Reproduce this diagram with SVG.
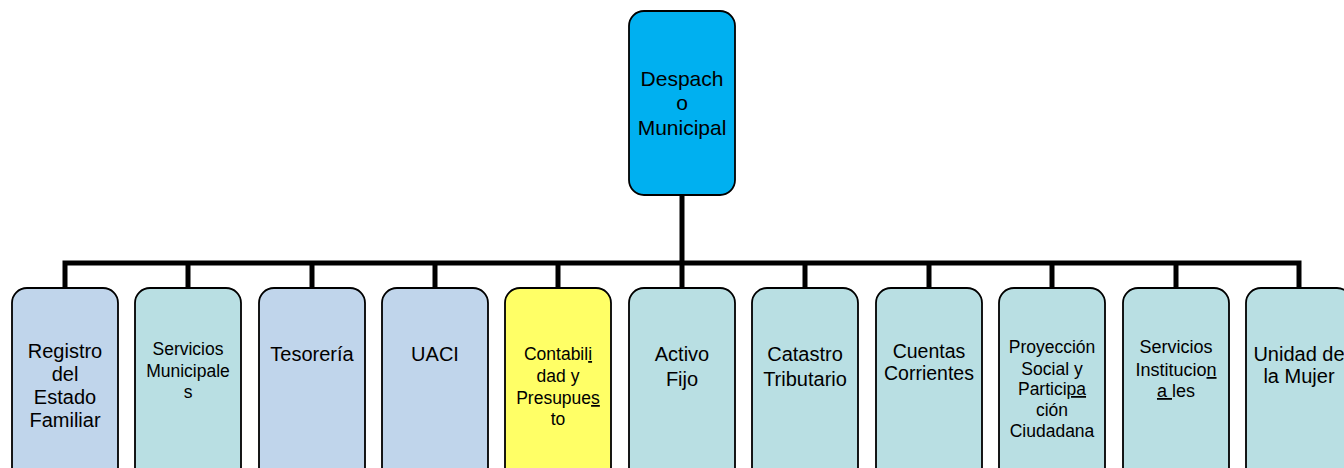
<svg xmlns="http://www.w3.org/2000/svg" width="1344" height="468" viewBox="0 0 1344 468">
<style>
.box{stroke:#000;stroke-width:1.8}
.top{fill:#00B0F0}
.lb{fill:#C0D5EB}
.tl{fill:#B9DFE3}
.yl{fill:#FFFF66}
text{font-family:"Liberation Sans",Arial,sans-serif;fill:#000;text-anchor:middle}
.big{font-size:20px}
.sm{font-size:17.5px}
.u{text-decoration:underline}
.conn{stroke:#000;stroke-width:5;fill:none;stroke-linejoin:miter}
</style>
<rect width="1344" height="468" fill="#fff"/>
<g id="connectors">
<path class="conn" d="M682,195 V263"/>
<path class="conn" d="M65,289 V263 H1299 V289"/>
<path class="conn" d="M188,263 V289 M312,263 V289 M435,263 V289 M558,263 V289 M682,263 V289 M805,263 V289 M929,263 V289 M1052,263 V289 M1176,263 V289"/>
</g>
<g id="n-despacho">
<rect class="box top" x="629" y="11" width="106" height="184" rx="15"/>
<text style="font-size:21px"><tspan x="682" y="86">Despach</tspan><tspan x="682" y="110">o</tspan><tspan x="682" y="135">Municipal</tspan></text>
</g>
<g id="n-registro">
<rect class="box lb" x="12" y="288" width="106" height="200" rx="15"/>
<text class="big"><tspan x="65" y="358">Registro</tspan><tspan x="65" y="381">del</tspan><tspan x="65" y="404">Estado</tspan><tspan x="65" y="427">Familiar</tspan></text>
</g>
<g id="n-servicios-municipales">
<rect class="box tl" x="135" y="288" width="106" height="200" rx="15"/>
<text class="sm"><tspan x="188" y="355">Servicios</tspan><tspan x="188" y="377">Municipale</tspan><tspan x="188" y="398">s</tspan></text>
</g>
<g id="n-tesoreria">
<rect class="box lb" x="259" y="288" width="106" height="200" rx="15"/>
<text class="big" x="312" y="361">Tesorería</text>
</g>
<g id="n-uaci">
<rect class="box lb" x="382" y="288" width="106" height="200" rx="15"/>
<text class="big" x="435" y="361">UACI</text>
</g>
<g id="n-contabilidad">
<rect class="box yl" x="505" y="288" width="106" height="200" rx="15"/>
<text class="sm"><tspan x="558" y="360">Contabil<tspan class="u">i</tspan></tspan><tspan x="558" y="382">dad y</tspan><tspan x="558" y="404">Presupue<tspan class="u">s</tspan></tspan><tspan x="558" y="425">to</tspan></text>
</g>
<g id="n-activo-fijo">
<rect class="box tl" x="629" y="288" width="106" height="200" rx="15"/>
<text class="big"><tspan x="682" y="361">Activo</tspan><tspan x="682" y="386">Fijo</tspan></text>
</g>
<g id="n-catastro">
<rect class="box tl" x="752" y="288" width="106" height="200" rx="15"/>
<text class="big"><tspan x="805" y="361">Catastro</tspan><tspan x="805" y="386">Tributario</tspan></text>
</g>
<g id="n-cuentas">
<rect class="box tl" x="876" y="288" width="106" height="200" rx="15"/>
<text style="font-size:19.5px"><tspan x="929" y="358">Cuentas</tspan><tspan x="929" y="380">Corrientes</tspan></text>
</g>
<g id="n-proyeccion">
<rect class="box tl" x="999" y="288" width="106" height="200" rx="15"/>
<text class="sm"><tspan x="1052" y="353">Proyección</tspan><tspan x="1052" y="375">Social y</tspan><tspan x="1052" y="395">Partici<tspan class="u">pa</tspan></tspan><tspan x="1052" y="416">ción</tspan><tspan x="1052" y="437">Ciudadana</tspan></text>
</g>
<g id="n-servicios-institucionales">
<rect class="box tl" x="1123" y="288" width="106" height="200" rx="15"/>
<text style="font-size:18px"><tspan x="1176" y="353">Servicios</tspan><tspan x="1176" y="376">Institucio<tspan class="u">n</tspan></tspan><tspan x="1176" y="397"><tspan class="u">a </tspan>les</tspan></text>
</g>
<g id="n-unidad-mujer">
<rect class="box tl" x="1246" y="288" width="106" height="200" rx="15"/>
<text class="big"><tspan x="1299" y="361">Unidad de</tspan><tspan x="1299" y="383">la Mujer</tspan></text>
</g>
</svg>
